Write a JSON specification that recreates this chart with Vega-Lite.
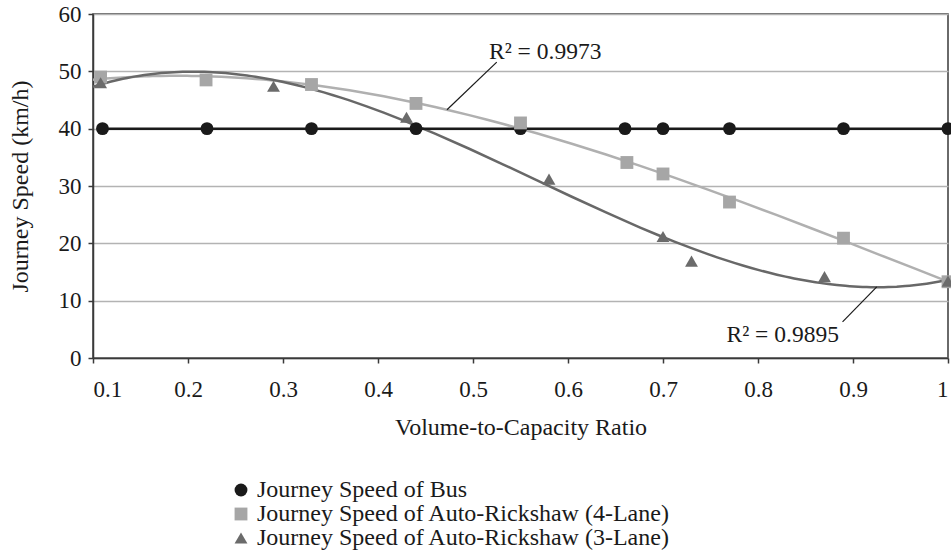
{
  "$schema": "https://vega.github.io/schema/vega-lite/v6.json",
  "width": 855,
  "height": 344,
  "autosize": "none",
  "padding": {"left": 93, "top": 14, "right": 3, "bottom": 202},
  "background": "white",
  "config": {
    "font": "Liberation Serif",
    "view": {"stroke": "#3a3a3a", "strokeWidth": 1.5},
    "axis": {
      "labelFont": "Liberation Serif",
      "titleFont": "Liberation Serif",
      "labelFontSize": 23,
      "titleFontSize": 24,
      "titleFontWeight": "normal",
      "labelColor": "#1a1a1a",
      "titleColor": "#1a1a1a",
      "domainColor": "#3a3a3a",
      "domainWidth": 1.5,
      "tickColor": "#3a3a3a",
      "tickWidth": 1.5,
      "tickSize": 5
    },
    "legend": {
      "labelFont": "Liberation Serif",
      "labelFontSize": 24,
      "labelColor": "#1a1a1a",
      "labelLimit": 0
    }
  },
  "datasets": {
    "points": [
      {"x": 0.11, "y": 40, "series": "Journey Speed of Bus"},
      {"x": 0.22, "y": 40, "series": "Journey Speed of Bus"},
      {"x": 0.33, "y": 40, "series": "Journey Speed of Bus"},
      {"x": 0.44, "y": 40, "series": "Journey Speed of Bus"},
      {"x": 0.55, "y": 40, "series": "Journey Speed of Bus"},
      {"x": 0.66, "y": 40, "series": "Journey Speed of Bus"},
      {"x": 0.70, "y": 40, "series": "Journey Speed of Bus"},
      {"x": 0.77, "y": 40, "series": "Journey Speed of Bus"},
      {"x": 0.89, "y": 40, "series": "Journey Speed of Bus"},
      {"x": 1.0, "y": 40, "series": "Journey Speed of Bus"},
      {"x": 0.108, "y": 49.0, "series": "Journey Speed of Auto-Rickshaw (4-Lane)"},
      {"x": 0.219, "y": 48.5, "series": "Journey Speed of Auto-Rickshaw (4-Lane)"},
      {"x": 0.33, "y": 47.7, "series": "Journey Speed of Auto-Rickshaw (4-Lane)"},
      {"x": 0.44, "y": 44.4, "series": "Journey Speed of Auto-Rickshaw (4-Lane)"},
      {"x": 0.55, "y": 41.0, "series": "Journey Speed of Auto-Rickshaw (4-Lane)"},
      {"x": 0.662, "y": 34.1, "series": "Journey Speed of Auto-Rickshaw (4-Lane)"},
      {"x": 0.70, "y": 32.1, "series": "Journey Speed of Auto-Rickshaw (4-Lane)"},
      {"x": 0.77, "y": 27.2, "series": "Journey Speed of Auto-Rickshaw (4-Lane)"},
      {"x": 0.89, "y": 20.9, "series": "Journey Speed of Auto-Rickshaw (4-Lane)"},
      {"x": 1.0, "y": 13.3, "series": "Journey Speed of Auto-Rickshaw (4-Lane)"},
      {"x": 0.108, "y": 48.0, "series": "Journey Speed of Auto-Rickshaw (3-Lane)"},
      {"x": 0.29, "y": 47.4, "series": "Journey Speed of Auto-Rickshaw (3-Lane)"},
      {"x": 0.43, "y": 42.0, "series": "Journey Speed of Auto-Rickshaw (3-Lane)"},
      {"x": 0.58, "y": 31.2, "series": "Journey Speed of Auto-Rickshaw (3-Lane)"},
      {"x": 0.70, "y": 21.2, "series": "Journey Speed of Auto-Rickshaw (3-Lane)"},
      {"x": 0.73, "y": 16.9, "series": "Journey Speed of Auto-Rickshaw (3-Lane)"},
      {"x": 0.87, "y": 14.2, "series": "Journey Speed of Auto-Rickshaw (3-Lane)"},
      {"x": 1.0, "y": 13.4, "series": "Journey Speed of Auto-Rickshaw (3-Lane)"}
    ],
    "labels": [
      {"x": 0.576, "y": 53.4, "text": "R² = 0.9973"},
      {"x": 0.826, "y": 4.0, "text": "R² = 0.9895"}
    ],
    "leaders": [
      {"x": 0.525, "y": 51.6, "x2": 0.4726, "y2": 43.3},
      {"x": 0.889, "y": 6.3, "x2": 0.925, "y2": 12.4}
    ]
  },
  "layer": [
    {
      "data": {"name": "points"},
      "transform": [
        {"filter": "datum.series === 'Journey Speed of Auto-Rickshaw (4-Lane)'"},
        {"regression": "y", "on": "x", "method": "poly", "order": 3, "extent": [0.1, 1]}
      ],
      "mark": {"type": "line", "color": "#b0b0b0", "strokeWidth": 2.5},
      "encoding": {
        "x": {"field": "x", "type": "quantitative"},
        "y": {"field": "y", "type": "quantitative"}
      }
    },
    {
      "data": {"name": "points"},
      "transform": [
        {"filter": "datum.series === 'Journey Speed of Auto-Rickshaw (3-Lane)'"},
        {"regression": "y", "on": "x", "method": "poly", "order": 3, "extent": [0.1, 1]}
      ],
      "mark": {"type": "line", "color": "#686868", "strokeWidth": 2.5},
      "encoding": {
        "x": {"field": "x", "type": "quantitative"},
        "y": {"field": "y", "type": "quantitative"}
      }
    },
    {
      "data": {"name": "points"},
      "transform": [{"filter": "datum.series === 'Journey Speed of Bus'"}],
      "mark": {"type": "line", "color": "#1a1a1a", "strokeWidth": 2.5},
      "encoding": {
        "x": {"field": "x", "type": "quantitative"},
        "y": {"field": "y", "type": "quantitative"}
      }
    },
    {
      "data": {"name": "points"},
      "mark": {"type": "point", "filled": true, "opacity": 1, "size": 165},
      "encoding": {
        "x": {
          "field": "x",
          "type": "quantitative",
          "scale": {"domain": [0.1, 1], "nice": false, "zero": false},
          "axis": {
            "title": "Volume-to-Capacity Ratio",
            "values": [0.1, 0.2, 0.3, 0.4, 0.5, 0.6, 0.7, 0.8, 0.9, 1.0],
            "format": ".1~f",
            "grid": false,
            "labelPadding": 15,
            "titlePadding": 14
          }
        },
        "y": {
          "field": "y",
          "type": "quantitative",
          "scale": {"domain": [0, 60], "nice": false},
          "axis": {
            "title": "Journey Speed (km/h)",
            "values": [0, 10, 20, 30, 40, 50, 60],
            "grid": true,
            "gridColor": "#b3b3b3",
            "gridWidth": 1.5,
            "labelPadding": 7,
            "titlePadding": 26
          }
        },
        "color": {
          "field": "series",
          "type": "nominal",
          "scale": {
            "domain": ["Journey Speed of Bus", "Journey Speed of Auto-Rickshaw (4-Lane)", "Journey Speed of Auto-Rickshaw (3-Lane)"],
            "range": ["#1a1a1a", "#a6a6a6", "#6b6b6b"]
          },
          "legend": {
            "title": null,
            "orient": "none",
            "legendX": 136,
            "legendY": 464,
            "padding": 0,
            "rowPadding": 0,
            "symbolSize": 165,
            "labelOffset": 4
          }
        },
        "shape": {
          "field": "series",
          "type": "nominal",
          "scale": {
            "domain": ["Journey Speed of Bus", "Journey Speed of Auto-Rickshaw (4-Lane)", "Journey Speed of Auto-Rickshaw (3-Lane)"],
            "range": ["circle", "square", "triangle-up"]
          },
          "legend": {
            "title": null,
            "orient": "none",
            "legendX": 136,
            "legendY": 464,
            "padding": 0,
            "rowPadding": 0,
            "symbolSize": 165,
            "labelOffset": 4
          }
        }
      }
    },
    {
      "data": {"name": "leaders"},
      "mark": {"type": "rule", "color": "#1a1a1a", "strokeWidth": 1.2},
      "encoding": {
        "x": {"field": "x", "type": "quantitative"},
        "y": {"field": "y", "type": "quantitative"},
        "x2": {"field": "x2"},
        "y2": {"field": "y2"}
      }
    },
    {
      "data": {"name": "labels"},
      "mark": {"type": "text", "font": "Liberation Serif", "fontSize": 23.5, "color": "#1a1a1a", "align": "center", "baseline": "middle"},
      "encoding": {
        "x": {"field": "x", "type": "quantitative"},
        "y": {"field": "y", "type": "quantitative"},
        "text": {"field": "text"}
      }
    }
  ]
}
